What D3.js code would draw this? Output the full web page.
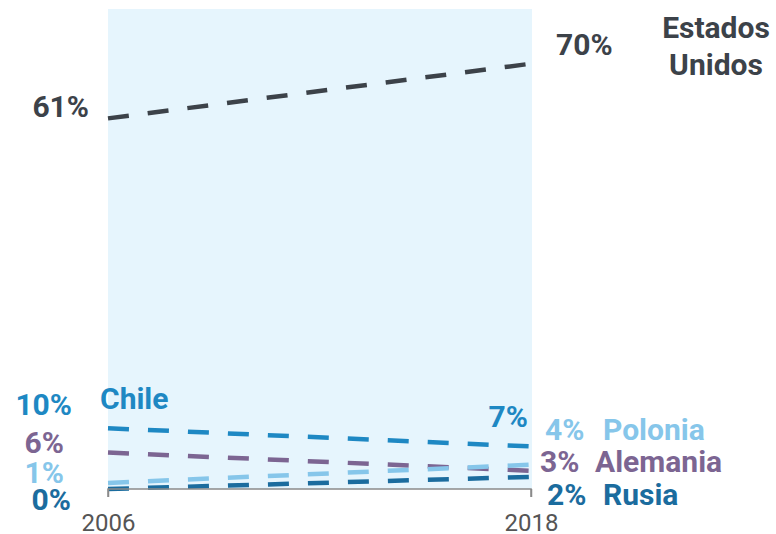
<!DOCTYPE html>
<html><head><meta charset="utf-8">
<script src="https://cdn.jsdelivr.net/npm/d3@7"></script>
<style>
html,body{margin:0;padding:0;background:#fff;}
svg{display:block;font-family:Roboto,"Noto Sans",sans-serif;}
</style></head>
<body>
<svg id="chart" width="776" height="534"></svg>
<script>
const years = [2006, 2018];
const countries = ["Chile", "Alemania", "Polonia", "Rusia", "Estados Unidos"];
const values2006 = [10, 6, 1, 0, 61];
const values2018 = [7, 3, 4, 2, 70];
const colors = ["#1e88c3", "#7c6592", "#86c6ea", "#1b6c9e", "#3c4249"];
const tickLabels = ["2006", "2018"];

const svg = d3.select("#chart");
const x = d3.scalePoint().domain(years).range([108, 531]);
const y = d3.scaleLinear().domain([0, 79]).range([489, 9]);

// background panel
svg.append("rect")
  .attr("x", x(2006)).attr("y", y(79))
  .attr("width", x(2018) - x(2006) + 1).attr("height", y(0) - y(79))
  .attr("fill", "#e6f5fd");

const series = countries.map((c, i) => ({
  name: c, color: colors[i],
  pts: [{yr: years[0], v: values2006[i]}, {yr: years[1], v: values2018[i]}]
}));

const line = d3.line().x(d => x(d.yr)).y(d => y(d.v));
svg.selectAll("path.series").data(series).enter().append("path")
  .attr("class", "series")
  .attr("d", d => line(d.pts))
  .attr("fill", "none")
  .attr("stroke", d => d.color)
  .attr("stroke-width", 4.5)
  .attr("stroke-dasharray", "21 19");

// axis
const axis = d3.axisBottom(x).tickSize(8).tickFormat((d, i) => tickLabels[i]);
const gA = svg.append("g").attr("transform", `translate(0,${y(0)})`).call(axis);
gA.select(".domain").attr("stroke", "#8a8a8a").attr("stroke-width", 1.5).attr("d", `M${x(2006)},8V0H${x(2018)}V8`);
gA.selectAll(".tick line").attr("stroke", "#8a8a8a").attr("stroke-width", 1.5);
gA.selectAll(".tick text").attr("font-size", 24).attr("fill", "#555").attr("dy", "0").attr("y", 42)
  .attr("font-family", "Roboto, sans-serif");

// labels
const fs = 30;
function lab(txt, xx, yy, col, anchor) {
  svg.append("text").attr("x", xx).attr("y", yy).attr("fill", col)
    .attr("font-size", fs).attr("font-weight", 700).attr("text-anchor", anchor || "start").text(txt);
}
// left values
lab(values2006[4] + "%", 89, y(values2006[4]) - 1, colors[4], "end");
lab(values2006[0] + "%", 72, y(values2006[0]) - 13, colors[0], "end");
lab(values2006[1] + "%", 64, y(values2006[1]) + 0, colors[1], "end");
lab(values2006[2] + "%", 64, y(values2006[2]) + 0, colors[2], "end");
lab(values2006[3] + "%", 71, y(values2006[3]) + 21, colors[3], "end");
lab(countries[0], 100, y(values2006[0]) - 19, colors[0]);
// right values
lab(values2018[4] + "%", 556, y(values2018[4]) - 9, colors[4]);
svg.append("text").attr("x", 716).attr("y", 38).attr("fill", colors[4]).attr("font-size", fs)
  .attr("font-weight", 700).attr("text-anchor", "middle").text("Estados");
svg.append("text").attr("x", 716).attr("y", 75).attr("fill", colors[4]).attr("font-size", fs)
  .attr("font-weight", 700).attr("text-anchor", "middle").text("Unidos");
lab(values2018[0] + "%", 528, y(values2018[0]) - 19, colors[0], "end");
lab(values2018[2] + "%", 545, y(values2018[2]) - 25, colors[2]);
lab(countries[2], 603, y(values2018[2]) - 25, colors[2]);
lab(values2018[1] + "%", 540, y(values2018[1]) + 1, colors[1]);
lab(countries[1], 595, y(values2018[1]) + 1, colors[1]);
lab(values2018[3] + "%", 547, y(values2018[3]) + 28, colors[3]);
lab(countries[3], 603, y(values2018[3]) + 28, colors[3]);
</script>
</body></html>
